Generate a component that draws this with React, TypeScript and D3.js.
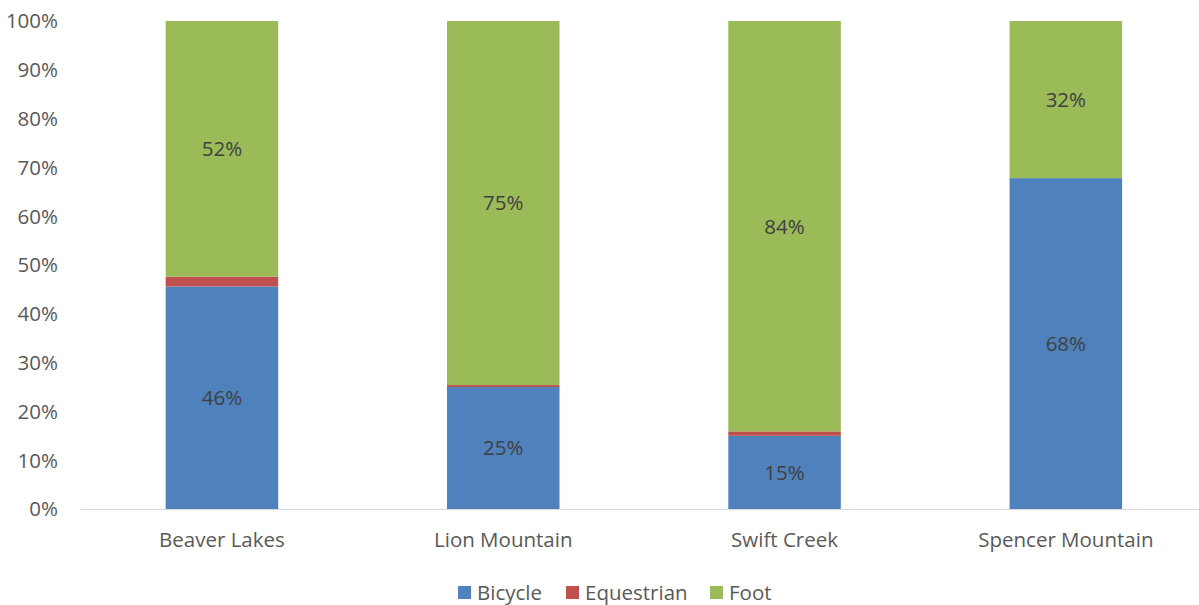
import React from "react";
import * as d3 from "d3";

const categories = ["Beaver Lakes", "Lion Mountain", "Swift Creek", "Spencer Mountain"];
const seriesNames = ["Bicycle", "Equestrian", "Foot"];
const bicycle = [45.6, 25.0, 15.0, 67.8];
const equestrian = [2.0, 0.4, 0.9, 0];
const foot = [52.4, 74.6, 84.1, 32.2];
const seriesColors = ["#4f81bd", "#c0504d", "#9bbb59"];
const yTicks = [0, 10, 20, 30, 40, 50, 60, 70, 80, 90, 100];

const W = 1199, H = 605;
const FONT = "'Open Sans', sans-serif";
const FS = 20.5;

export default function App() {
  const x = d3.scaleBand<string>().domain(categories).range([81.3, 1206.5]).paddingInner(0.6).paddingOuter(0.3);
  const y = d3.scaleLinear().domain([0, 100]).range([509, 21]);
  const rows = categories.map((c, i) => ({ cat: c, Bicycle: bicycle[i], Equestrian: equestrian[i], Foot: foot[i] }));
  const stacked = d3.stack<any>().keys(seriesNames)(rows);
  const legendX = [458, 566, 710];
  return (
    <svg width={W} height={H} style={{ position: "absolute", left: 0, top: 0, background: "#fff" }} fontFamily={FONT}>
      {yTicks.map((t) => (
        <text key={t} x={58} y={y(t)} dy="0.36em" textAnchor="end" fontSize={FS} fill="#595959">{t}%</text>
      ))}
      {stacked.map((s, si) => (
        <g key={s.key}>
          {s.map((d, i) => {
            const h = y(d[0]) - y(d[1]);
            if (h <= 0) return null;
            return <rect key={i} x={x(categories[i])} y={y(d[1])} width={x.bandwidth()} height={h} fill={seriesColors[si]} />;
          })}
        </g>
      ))}
      <line x1={81} x2={1199} y1={y(0) + 0.5} y2={y(0) + 0.5} stroke="#d9d9d9" strokeWidth={1} />
      {stacked.map((s, si) =>
        si === 1 ? null : s.map((d, i) => {
          const v = d[1] - d[0];
          if (v <= 0) return null;
          return (
            <text key={s.key + i} x={(x(categories[i]) as number) + x.bandwidth() / 2} y={y((d[0] + d[1]) / 2)} dy="0.36em" textAnchor="middle" fontSize={FS} fill="#404040">
              {Math.round(v)}%
            </text>
          );
        })
      )}
      {categories.map((c) => (
        <text key={c} x={(x(c) as number) + x.bandwidth() / 2} y={540} dy="0.36em" textAnchor="middle" fontSize={FS} fill="#595959">{c}</text>
      ))}
      {seriesNames.map((n, i) => (
        <g key={n}>
          <rect x={legendX[i]} y={586} width={13} height={13} fill={seriesColors[i]} />
          <text x={legendX[i] + 19} y={593} dy="0.36em" fontSize={FS} fill="#595959">{n}</text>
        </g>
      ))}
    </svg>
  );
}
